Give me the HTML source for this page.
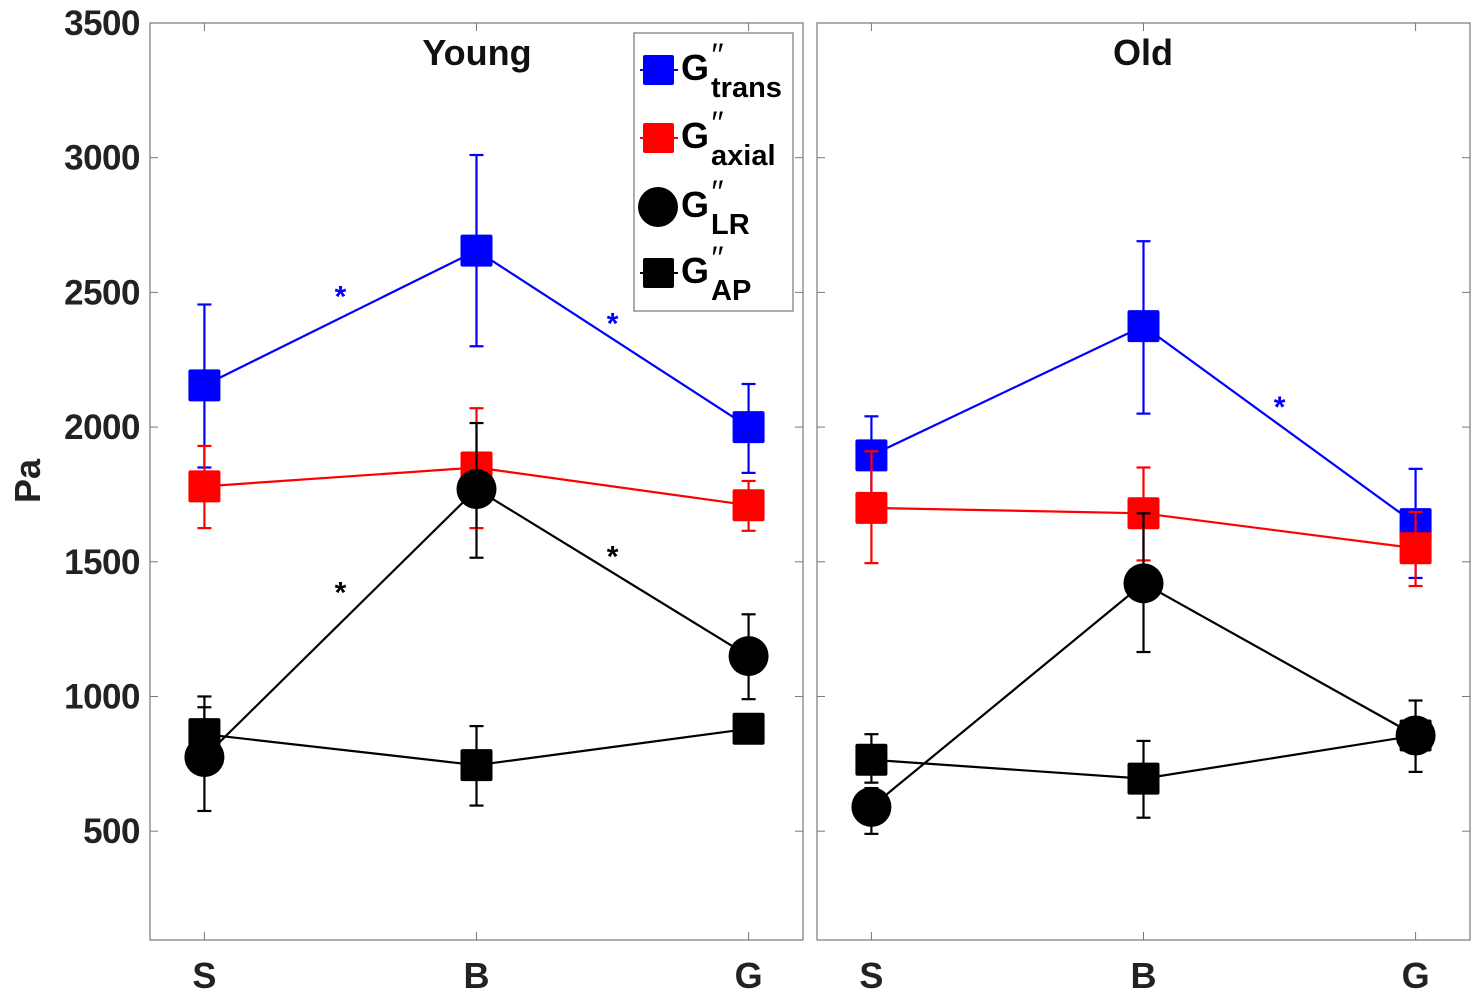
<!DOCTYPE html>
<html><head><meta charset="utf-8">
<style>
body{margin:0;background:#fff;}
svg{display:block;font-family:"Liberation Sans",Arial,sans-serif;font-weight:bold;}
</style></head>
<body>
<svg id="chart" width="1484" height="998"></svg>
<script>
const categories=["S","B","G"];
const yTicks=[500,1000,1500,2000,2500,3000,3500];
const panels=["Young","Old"];
const transVal=[[2155,2655,2000],[1895,2375,1640]];
const transHi=[[2455,3010,2160],[2040,2690,1845]];
const transLo=[[1850,2300,1830],[1750,2050,1440]];
const axialVal=[[1780,1850,1710],[1700,1680,1550]];
const axialHi=[[1930,2070,1800],[1910,1850,1685]];
const axialLo=[[1625,1625,1615],[1495,1505,1410]];
const lrVal=[[775,1770,1150],[590,1420,855]];
const lrHi=[[960,2015,1305],[660,1680,985]];
const lrLo=[[575,1515,990],[490,1165,720]];
const apVal=[[860,745,880],[765,695,855]];
const apHi=[[1000,890,930],[860,835,920]];
const apLo=[[760,595,830],[680,550,790]];
const stars=[[{x:1.5,v:2500,c:"#0000ff"},{x:2.5,v:2400,c:"#0000ff"},{x:1.5,v:1400,c:"#000"},{x:2.5,v:1535,c:"#000"}],[{x:2.5,v:2090,c:"#0000ff"}]];

const svg=document.getElementById('chart');
const NS="http://www.w3.org/2000/svg";
function mk(t,a,p){const e=document.createElementNS(NS,t);for(const k in a)e.setAttribute(k,a[k]);(p||svg).appendChild(e);return e;}
const yTop=23,yBot=940,vMin=96,vMax=3500;
function Y(v){return yBot-(v-vMin)/(vMax-vMin)*(yBot-yTop);}
const pLeft=[150,817],pW=653;
function X(p,i){return pLeft[p]+(i+1-0.8)/2.4*pW;}

yTicks.forEach(t=>{
  const tx=mk('text',{x:140,y:Y(t)+12,'text-anchor':'end','font-size':35,fill:'#222','letter-spacing':'-0.5'});
  tx.textContent=t;
  
  
});
const yl=mk('text',{x:40,y:481,'text-anchor':'middle','font-size':36,fill:'#222',transform:'rotate(-90 40 481)'});
yl.textContent='Pa';



function errbar(p,i,hi,lo,col,g){
  const x=X(p,i);
  mk('line',{x1:x,x2:x,y1:Y(hi),y2:Y(lo),stroke:col,'stroke-width':2.2},g);
  mk('line',{x1:x-7,x2:x+7,y1:Y(hi),y2:Y(hi),stroke:col,'stroke-width':2.2},g);
  mk('line',{x1:x-7,x2:x+7,y1:Y(lo),y2:Y(lo),stroke:col,'stroke-width':2.2},g);
}
function series(p,vals,hi,lo,col,shape,name){
  const g=mk('g',{});
  
  
  mk('polyline',{points:vals[p].map((v,i)=>X(p,i)+','+Y(v)).join(' '),fill:'none',stroke:col,'stroke-width':2.2},g);
  vals[p].forEach((v,i)=>{
    errbar(p,i,hi[p][i],lo[p][i],col,g);
    let m;
    if(shape==='sq') m=mk('rect',{x:X(p,i)-16,y:Y(v)-16,width:32,height:32,rx:2,fill:col},g);
    else m=mk('circle',{cx:X(p,i),cy:Y(v),r:20,fill:col},g);
    
    
  });
}
panels.forEach((pn,p)=>{
  const fr=mk('rect',{x:pLeft[p],y:yTop,width:pW,height:yBot-yTop,fill:'none',stroke:'#777','stroke-width':1.2});
  
  
  yTicks.forEach(t=>{
    mk('line',{x1:pLeft[p],x2:pLeft[p]+8,y1:Y(t),y2:Y(t),stroke:'#777'});
    mk('line',{x1:pLeft[p]+pW-8,x2:pLeft[p]+pW,y1:Y(t),y2:Y(t),stroke:'#777'});
  });
  categories.forEach((c,i)=>{
    mk('line',{x1:X(p,i),x2:X(p,i),y1:yTop,y2:yTop+8,stroke:'#777'});
    mk('line',{x1:X(p,i),x2:X(p,i),y1:yBot-8,y2:yBot,stroke:'#777'});
    const t=mk('text',{x:X(p,i),y:988,'text-anchor':'middle','font-size':36,fill:'#222'});
    t.textContent=c;
    
    
  });
  const tt=mk('text',{x:p===0?477:1143,y:65,'text-anchor':'middle','font-size':36,fill:'#111'});
  tt.textContent=pn;
  
  
  series(p,transVal,transHi,transLo,'#0000ff','sq','g-trans');
  series(p,axialVal,axialHi,axialLo,'#ff0000','sq','g-axial');
  series(p,apVal,apHi,apLo,'#000','sq','g-ap');
  series(p,lrVal,lrHi,lrLo,'#000','ci','g-lr');
  stars[p].forEach(s=>{
    const st=mk('text',{x:pLeft[p]+(s.x-0.8)/2.4*pW,y:Y(s.v)+14,'text-anchor':'middle','font-size':30,fill:s.c});
    st.textContent='*';
    
    
  });
});
const lg=mk('g',{});


mk('rect',{x:634,y:33,width:159,height:278,fill:'#fff',stroke:'#777','stroke-width':1.2},lg);
const leg=[["trans","#0000ff","sq",70],["axial","#ff0000","sq",138],["LR","#000","ci",207],["AP","#000","sq",273]];
leg.forEach(l=>{
  const e=mk('g',{},lg);
  
  
  if(l[2]==='sq'){mk('line',{x1:640,x2:678,y1:l[3],y2:l[3],stroke:l[1],'stroke-width':2},e);
    mk('rect',{x:643,y:l[3]-15,width:31,height:30,rx:2,fill:l[1]},e);}
  else mk('circle',{cx:658,cy:l[3],r:20,fill:l[1]},e);
  const t=mk('text',{x:681,y:l[3]+10,'font-size':36,fill:'#000'},e);
  t.textContent='G';
  const q=mk('text',{x:710,y:l[3]-4,'font-size':32,fill:'#000','font-style':'italic','font-weight':'normal'},e);
  q.textContent='\u2032\u2032';
  const s=mk('text',{x:711,y:l[3]+27,'font-size':29,fill:'#000'},e);
  s.textContent=l[0];
});
</script>
</body></html>
